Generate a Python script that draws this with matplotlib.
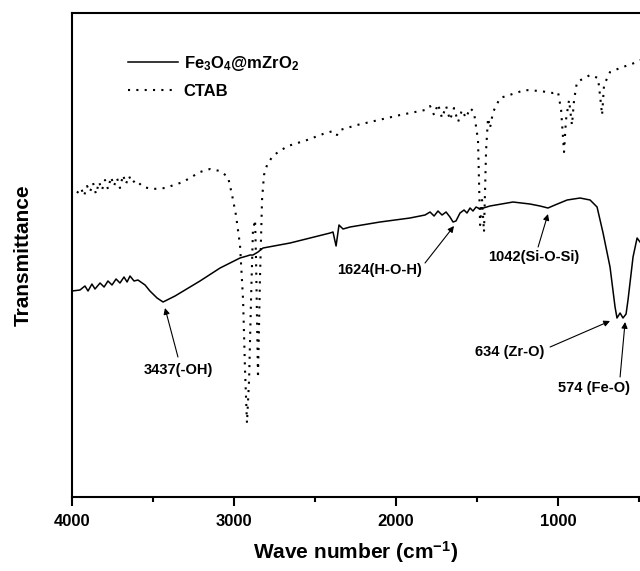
import matplotlib
matplotlib.use("Agg")
import matplotlib.pyplot as plt

plt.rcParams['font.family'] = ['Liberation Sans', 'DejaVu Sans']
plt.rcParams['font.weight'] = 'bold'
plt.rcParams['mathtext.fontset'] = 'custom'
plt.rcParams['mathtext.rm'] = 'Liberation Sans:bold'
plt.rcParams['mathtext.it'] = 'Liberation Sans:bold'
plt.rcParams['mathtext.bf'] = 'Liberation Sans:bold'
plt.rcParams['mathtext.default'] = 'rm'

# Fe3O4@mZrO2 spectrum (wavenumber, transmittance a.u.)
fe_wn = [4000, 3951, 3920, 3901, 3877, 3858, 3827, 3802, 3778, 3753, 3728, 3704, 3679, 3660,
         3642, 3617, 3593, 3549, 3519, 3475, 3438, 3364, 3210, 3086, 2963, 2920, 2901, 2883,
         2852, 2821, 2654, 2407, 2389, 2370, 2352, 2327, 2284, 2099, 1914, 1821, 1790, 1765,
         1741, 1716, 1691, 1667, 1648, 1630, 1605, 1580, 1562, 1543, 1525, 1506, 1481, 1420,
         1278, 1173, 1111, 1062, 1019, 944, 864, 802, 759, 722, 679, 648, 636, 617, 599, 580,
         568, 537, 512, 494]
fe_t = [206, 207, 211, 206, 213, 208, 214, 210, 216, 212, 218, 214, 220, 215,
        221, 216, 217, 212, 206, 199, 195, 201, 216, 229, 239, 241, 242, 242,
        245, 249, 254, 264, 265, 251, 272, 268, 270, 275, 279, 282, 285, 281,
        286, 282, 285, 280, 275, 276, 284, 287, 284, 289, 286, 290, 288, 291,
        295, 293, 291, 289, 292, 297, 299, 297, 290, 264, 230, 190, 179, 184, 179, 183,
        197, 240, 259, 255]

# CTAB spectrum
ct_wn = [3969, 3944, 3926, 3907, 3889, 3870, 3852, 3833, 3815, 3796, 3778, 3759, 3741, 3722,
         3704, 3685, 3667, 3648, 3630, 3605, 3562, 3500, 3426, 3315, 3210, 3148, 3086, 3037,
         3012, 2988, 2963, 2944, 2932, 2920, 2907, 2895, 2883, 2870, 2864, 2852, 2840, 2827,
         2815, 2796, 2765, 2728, 2667, 2549, 2451, 2389, 2364, 2346, 2241, 2160, 1975, 1821,
         1790, 1765, 1741, 1716, 1691, 1667, 1642, 1617, 1593, 1568, 1543, 1519, 1494, 1481,
         1469, 1457, 1444, 1432, 1420, 1401, 1358, 1204, 1111, 1031, 1000, 981, 963, 951,
         932, 914, 901, 883, 802, 753, 741, 728, 716, 679, 617, 512, 494]
ct_t = [304, 309, 301, 311, 305, 314, 303, 315, 307, 317, 308, 320, 311, 319,
        309, 322, 313, 321, 314, 317, 310, 308, 309, 315, 325, 328, 326, 320,
        302, 282, 252, 197, 127, 74, 117, 197, 267, 277, 237, 119, 217, 297,
        322, 332, 340, 345, 351, 357, 363, 366, 362, 367, 372, 375, 382, 387,
        391, 382, 393, 379, 391, 377, 389, 375, 387, 379, 389, 385, 357, 272,
        297, 265, 347, 379, 369, 385, 399, 407, 406, 404, 405, 387, 345, 377,
        397, 372, 397, 415, 422, 419, 402, 382, 412, 425, 429, 435, 437]

series_labels = [r'Fe$_3$O$_4$@mZrO$_2$', 'CTAB']
x_ticks = [4000, 3000, 2000, 1000]

# annotations: label, text position, arrow tail, arrow head
ann_labels = ['3437(-OH)', '1624(H-O-H)', '1042(Si-O-Si)', '634 (Zr-O)', '574 (Fe-O)']
ann_text = [(3346, 127), (2099, 227), (1148, 240), (1296, 145), (778, 109)]
ann_tail = [(3346, 140), (1821, 234), (1123, 250), (1049, 150), (617, 120)]
ann_head = [(3426, 189), (1642, 271), (1062, 283), (679, 176), (586, 175)]

fig = plt.figure(figsize=(6.4, 5.71), dpi=100)
ax = fig.add_axes([0.1125, 0.1296, 0.8875, 0.8476])

ax.plot(fe_wn, fe_t, color='black', lw=1.1, label=series_labels[0])
ax.plot(ct_wn, ct_t, color='black', lw=1.5, linestyle=(0, (1, 3)), label=series_labels[1])

ax.set_xlim(4000, 494)
ax.set_ylim(0, 484)
ax.set_xticks(x_ticks)
ax.set_xticks([3500, 2500, 1500, 500], minor=True)
ax.set_yticks([])
ax.tick_params(axis='x', which='major', direction='out', length=6.5, width=1.5,
               labelsize=12, pad=6)
ax.tick_params(axis='x', which='minor', direction='out', length=3.5, width=1.5)
for lab in ax.get_xticklabels():
    lab.set_fontweight('bold')
for s in ['left', 'top', 'bottom']:
    ax.spines[s].set_linewidth(1.5)
ax.spines['right'].set_visible(False)

ax.set_xlabel(r'Wave number (cm$^{-1}$)', fontsize=15, fontweight='bold', labelpad=7)
ax.set_ylabel('Transmittance', fontsize=15, fontweight='bold', labelpad=28)

for lab, tp, tl, hd in zip(ann_labels, ann_text, ann_tail, ann_head):
    ax.text(tp[0], tp[1], lab, fontsize=10.5, fontweight='bold', ha='center', va='center')
    ax.annotate('', xy=hd, xytext=tl,
                arrowprops=dict(arrowstyle='-|>', color='black', lw=0.8, mutation_scale=9,
                                shrinkA=0, shrinkB=0))

leg = ax.legend(loc='upper left', bbox_to_anchor=(0.0986, 0.915), frameon=False,
                fontsize=12, handlelength=3.0, handletextpad=0.35, borderpad=0,
                borderaxespad=0, labelspacing=0.65)
for t in leg.get_texts():
    t.set_fontweight('bold')

fig.savefig('out.png', dpi=100)
